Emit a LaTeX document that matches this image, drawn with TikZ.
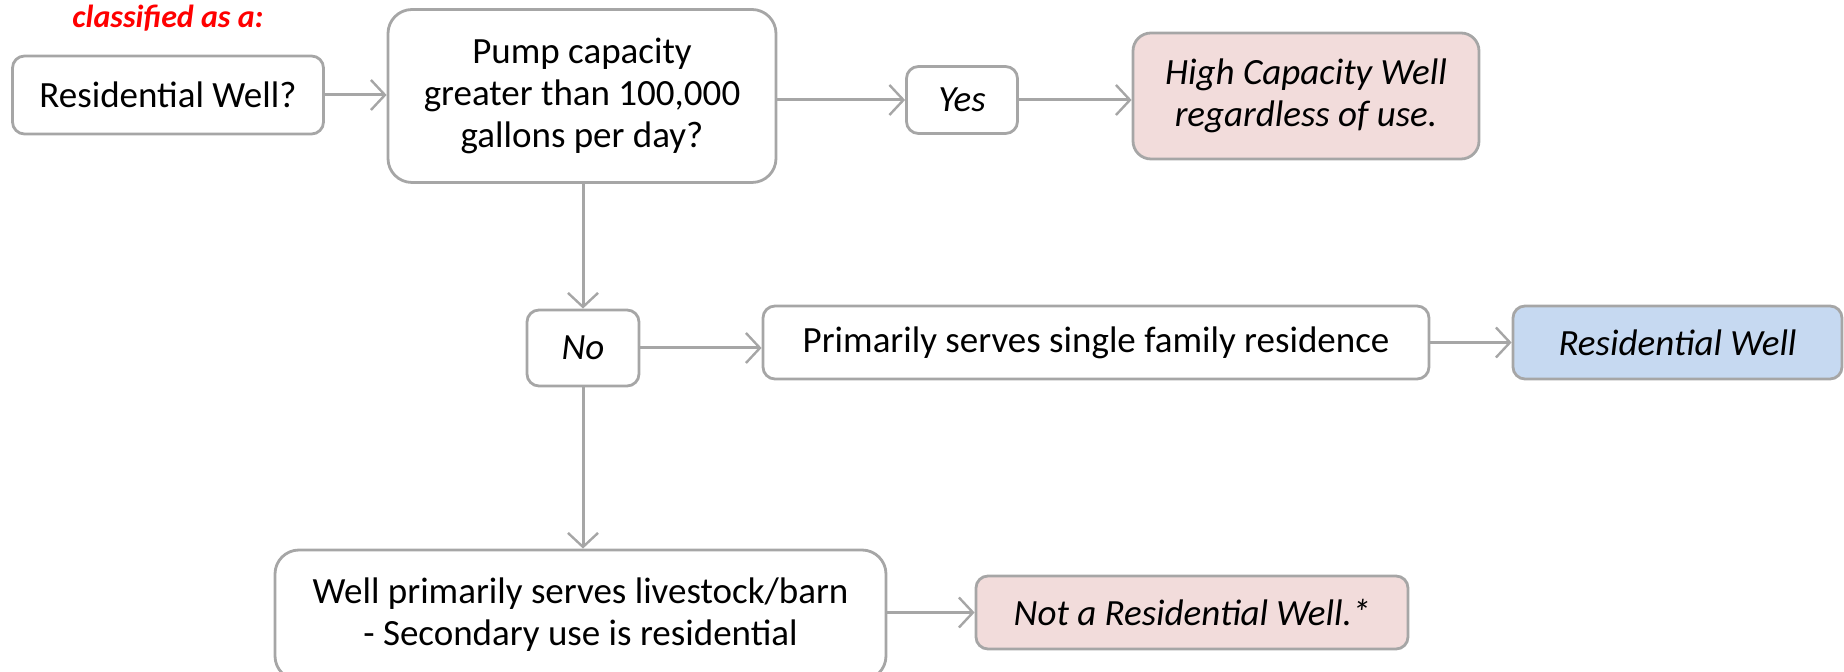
\documentclass[tikz,border=0pt]{standalone}
\usepackage{fontspec}
\setmainfont{Carlito}
\usetikzlibrary{arrows.meta}
\definecolor{lineg}{HTML}{A6A6A6}
\definecolor{pinkf}{HTML}{F2DCDB}
\definecolor{bluef}{HTML}{C6D9F1}
\definecolor{redt}{HTML}{FF0000}
\tikzset{
  box/.style={draw=lineg, line width=1.4pt, rounded corners=6pt, fill=white, inner sep=0pt, align=center,
    font=\fontsize{18.5}{21}\selectfont},
  res/.style={box, font=\fontsize{18.5}{21}\selectfont\itshape},
  conn/.style={draw=lineg, line width=1.5pt, -{Straight Barb[length=7pt,width=15pt,line width=1.2pt]}},
}
\begin{document}
\begin{tikzpicture}[x=0.5pt,y=-0.5pt]
\useasboundingbox (0,0) rectangle (1844,672);
\node[text=redt, font=\fontsize{16}{19}\selectfont\bfseries\itshape] (cls) at (168,18) {classified as a:};
\node[box, minimum width=155.5pt, minimum height=39pt] (rw) at (168,95) {Residential Well?};
\node[box, rounded corners=12pt, minimum width=194pt, minimum height=86.5pt] (pump) at (582,96) {Pump capacity\\greater than 100,000\\gallons per day?};
\node[res, minimum width=55.5pt, minimum height=33.5pt] (yes) at (962,100) {Yes};
\node[res, fill=pinkf, rounded corners=9pt, minimum width=173pt, minimum height=63pt] (high) at (1306,96) {High Capacity Well\\regardless of use.};
\node[res, minimum width=56pt, minimum height=38pt] (no) at (583,348) {No};
\node[box, minimum width=333pt, minimum height=36.5pt] (prim) at (1096,342.5) {Primarily serves single family residence};
\node[res, fill=bluef, minimum width=164.5pt, minimum height=36.5pt] (resw) at (1677.5,342.5) {Residential Well};
\node[box, rounded corners=12pt, minimum width=305.5pt, minimum height=65pt] (well) at (580.5,615) {Well primarily serves livestock/barn\\- Secondary use is residential};
\node[res, fill=pinkf, minimum width=216pt, minimum height=36.5pt] (notr) at (1192,612.5) {Not a Residential Well.*};
\draw[conn] (rw.east) -- (rw.east -| pump.west);
\draw[conn] (pump.east |- yes.west) -- (yes.west);
\draw[conn] (yes.east) -- (yes.east -| high.west);
\draw[conn] (pump.south -| no.north) -- (no.north);
\draw[conn] (no.east) -- (no.east -| prim.west);
\draw[conn] (prim.east) -- (resw.west);
\draw[conn] (no.south) -- (no.south |- well.north);
\draw[conn] (well.east |- notr.west) -- (notr.west);
\end{tikzpicture}
\end{document}
